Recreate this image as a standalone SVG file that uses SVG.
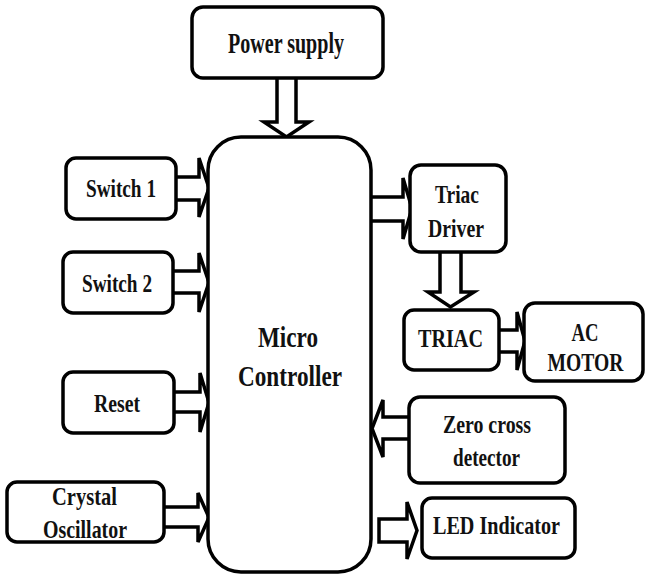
<svg xmlns="http://www.w3.org/2000/svg" width="645" height="574" viewBox="0 0 645 574">
<style>
.box{fill:#fff;stroke:#000;stroke-width:3.5}
.arr{fill:#fff;stroke:#000;stroke-width:3.5;stroke-linejoin:miter}
text{font-family:"Liberation Serif","Times New Roman",serif;font-weight:bold;fill:#111;text-anchor:middle;font-size:26px}
.big{font-size:30px}
</style>
<rect width="645" height="574" fill="#fff"/>
<g id="connectors">
<path class="arr" d="M277,78 L277,122 L264,122 L286.5,137 L309,122 L296,122 L296,78"/>
<path class="arr" d="M176,177 L199,177 L199,158 L209,188 L199,217 L199,200 L176,200"/>
<path class="arr" d="M173,271 L199,271 L199,253 L209,282.5 L199,312 L199,293 L173,293"/>
<path class="arr" d="M174,392 L200,392 L200,373 L209,402.5 L200,432 L200,412 L174,412"/>
<path class="arr" d="M164,507 L198,507 L198,493 L209,517.5 L198,542 L198,527 L164,527"/>
<path class="arr" d="M371,197 L403,197 L403,178 L412,208.5 L403,239 L403,221 L371,221"/>
<path class="arr" d="M440,252 L440,292 L428,292 L450.5,307 L474,292 L461,292 L461,252"/>
<path class="arr" d="M499,330 L517,330 L517,312 L525,341 L517,370 L517,352 L499,352"/>
<path class="arr" d="M409,417 L383,417 L383,400 L372,428.5 L383,457 L383,439 L409,439"/>
<path class="arr" d="M379,519 L407,519 L407,502 L417,530.5 L407,559 L407,542 L379,542 Z"/>
</g>
<g id="power-supply"><rect class="box" x="192" y="7" width="191" height="71" rx="11"/><text class="big" x="286" y="53" textLength="116" lengthAdjust="spacingAndGlyphs">Power supply</text></g>
<g id="micro-controller"><rect class="box" x="208" y="137" width="163" height="435" rx="33"/><text class="big" x="288" y="347" textLength="60" lengthAdjust="spacingAndGlyphs">Micro</text><text class="big" x="290" y="386" textLength="104" lengthAdjust="spacingAndGlyphs">Controller</text></g>
<g id="switch1"><rect class="box" x="66" y="158" width="110" height="61" rx="10"/><text x="121" y="197" textLength="70" lengthAdjust="spacingAndGlyphs">Switch 1</text></g>
<g id="switch2"><rect class="box" x="63" y="252" width="110" height="61" rx="10"/><text x="117" y="292" textLength="70" lengthAdjust="spacingAndGlyphs">Switch 2</text></g>
<g id="reset"><rect class="box" x="63" y="372" width="111" height="61" rx="10"/><text x="117" y="412" textLength="46" lengthAdjust="spacingAndGlyphs">Reset</text></g>
<g id="crystal-oscillator"><rect class="box" x="7" y="482" width="157" height="60" rx="10"/><text x="84.5" y="505" textLength="65" lengthAdjust="spacingAndGlyphs">Crystal</text><text x="85" y="538" textLength="84" lengthAdjust="spacingAndGlyphs">Oscillator</text></g>
<g id="triac-driver"><rect class="box" x="410" y="165" width="96" height="87" rx="11"/><text x="457" y="203" textLength="44" lengthAdjust="spacingAndGlyphs">Triac</text><text x="456" y="237" textLength="56" lengthAdjust="spacingAndGlyphs">Driver</text></g>
<g id="triac"><rect class="box" x="404" y="310" width="95" height="60" rx="10"/><text x="450.5" y="347" textLength="65" lengthAdjust="spacingAndGlyphs">TRIAC</text></g>
<g id="ac-motor"><rect class="box" x="524" y="303" width="119" height="78" rx="11"/><text x="585" y="341" textLength="27" lengthAdjust="spacingAndGlyphs">AC</text><text x="585.5" y="371" textLength="76" lengthAdjust="spacingAndGlyphs">MOTOR</text></g>
<g id="zero-cross-detector"><rect class="box" x="409" y="397" width="156" height="86" rx="11"/><text x="487" y="433" textLength="88" lengthAdjust="spacingAndGlyphs">Zero cross</text><text x="486.5" y="466" textLength="67" lengthAdjust="spacingAndGlyphs">detector</text></g>
<g id="led-indicator"><rect class="box" x="422" y="498" width="153" height="60" rx="10"/><text x="496.5" y="534" textLength="127" lengthAdjust="spacingAndGlyphs">LED Indicator</text></g>
</svg>
